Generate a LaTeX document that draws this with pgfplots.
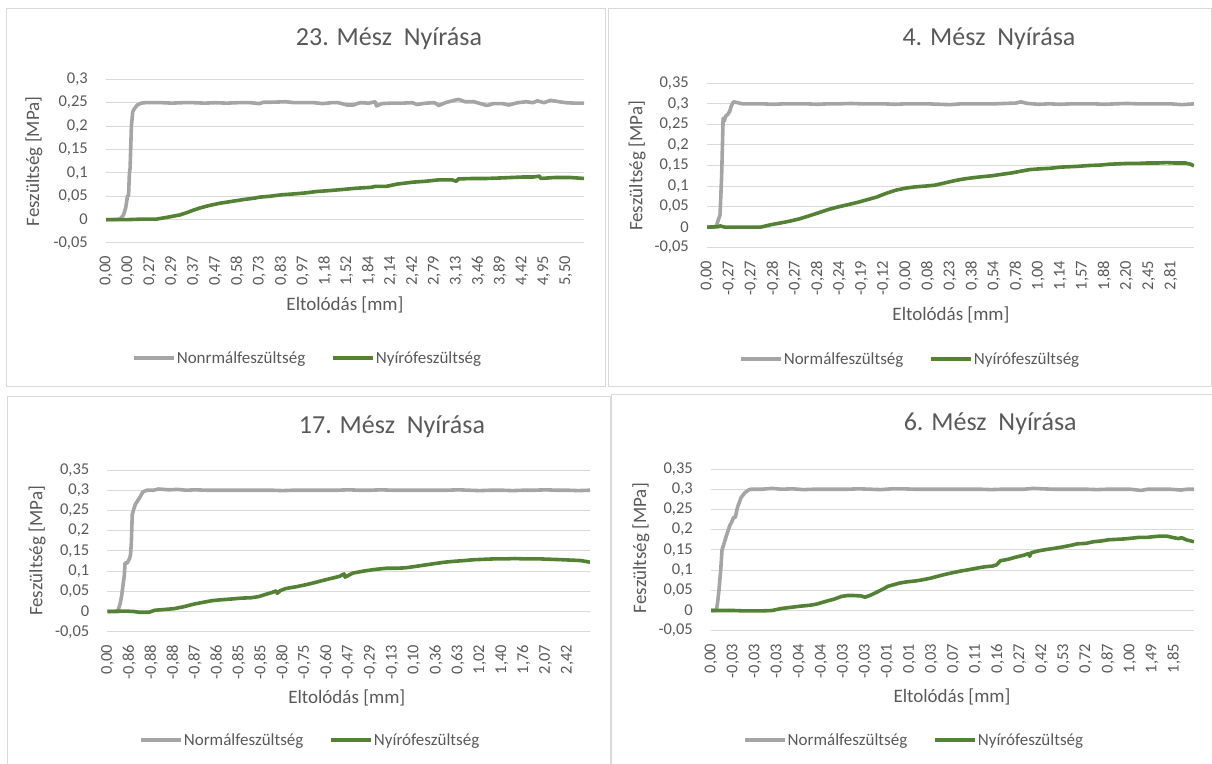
\documentclass[border=0pt]{standalone}
\usepackage{fontspec}
\setmainfont{Carlito}
\usepackage{pgfplots}
\pgfplotsset{compat=1.18}
\definecolor{linegray}{HTML}{A5A5A5}
\definecolor{linegreen}{HTML}{548235}
\definecolor{txt}{HTML}{595959}
\definecolor{gridc}{HTML}{D9D9D9}
\pgfplotsset{
  panel/.style={
    scale only axis, anchor=south west,
    axis line style={draw=none}, tick style={draw=none}, major tick length=0pt,
    ymajorgrids, grid style={gridc, line width=1pt},
    xmin=0, ymin=-0.05,
    xtick={0,...,21},
    xticklabel style={rotate=90, anchor=east, inner sep=0pt, font=\fontsize{16.5}{18}\selectfont, text=txt},
    xticklabel shift=13pt,
    yticklabel style={anchor=east, inner sep=0pt, font=\fontsize{16.5}{18}\selectfont, text=txt},
    yticklabel shift=18pt,
    title style={font=\fontsize{26}{30}\selectfont, text=txt, anchor=center},
    xlabel style={font=\fontsize{19}{22}\selectfont, text=txt, anchor=center},
    ylabel style={font=\fontsize{19}{22}\selectfont, text=txt, anchor=center},
    xlabel={Eltolódás [mm]},
    ylabel={Feszültség [MPa]},
    legend columns=2,
    legend cell align=left,
    legend style={draw=none, fill=none, anchor=west, inner sep=0pt,
      font=\fontsize{17}{20}\selectfont, text=txt,
      nodes={inner sep=1pt},
      /tikz/every even column/.append style={column sep=25pt}},
    legend image code/.code={\draw[#1] (0pt,0pt) -- (40pt,0pt);},
  },
  gl/.style={linegray, line width=3.6pt, line join=round},
  gr/.style={linegreen, line width=3.6pt, line join=round},
}
\begin{document}
\begin{tikzpicture}[x=1pt,y=1pt]
\useasboundingbox (0,0) rectangle (1212,763);
\draw[gridc, line width=1pt] (6.5,754) rectangle (605,376);
\draw[gridc, line width=1pt] (608,754) rectangle (1211.5,376);
\draw[gridc, line width=1pt] (7,366) rectangle (610,-5);
\draw[gridc, line width=1pt] (611,368) rectangle (1216,-5);

% ---------- Panel 1 ----------
\begin{axis}[panel, at={(106pt,520pt)}, width=478pt, height=163.7pt,
  xmax=21.83, ymax=0.3,
  ytick={-0.05,0,0.05,0.1,0.15,0.2,0.25,0.3},
  yticklabels={{-0,05},0,{0,05},{0,1},{0,15},{0,2},{0,25},{0,3}},
  xticklabels={{0,00},{0,00},{0,27},{0,29},{0,37},{0,47},{0,58},{0,73},{0,83},{0,97},{1,18},{1,52},{1,84},{2,14},{2,42},{2,79},{3,13},{3,46},{3,89},{4,42},{4,95},{5,50}},
  title={23. Mész\ \ Nyírása},
  title style={at={(axis description cs:0.592,1.2095)}},
  xlabel style={at={(axis description cs:0.5,-0.379)}},
  ylabel style={at={(axis description cs:-0.1506,0.498)}},
  legend style={at={(axis description cs:0.0544,-0.7025)}},
]
\addplot[gl] coordinates {(0,0)(0.3,0)(0.64,0.001)(0.8,0.01)(0.9,0.025)(0.98,0.05)(1.03,0.052)(1.07,0.1)(1.1,0.11)(1.16,0.2)(1.22,0.23)(1.28,0.236)(1.43,0.245)(1.6,0.249)(1.78,0.25)(2.2,0.25)(2.6,0.25)(3.0,0.249)(3.5,0.25)(4.0,0.25)(4.5,0.249)(5.0,0.25)(5.5,0.249)(6.0,0.25)(6.6,0.25)(7.0,0.248)(7.2,0.251)(7.6,0.251)(8.2,0.252)(8.6,0.25)(9.0,0.25)(9.5,0.25)(9.9,0.248)(10.3,0.25)(10.6,0.25)(11.0,0.245)(11.3,0.245)(11.6,0.25)(12.0,0.249)(12.3,0.252)(12.35,0.243)(12.6,0.248)(13.0,0.249)(13.5,0.249)(14.0,0.25)(14.2,0.246)(14.6,0.249)(15.0,0.25)(15.2,0.244)(15.5,0.25)(15.9,0.255)(16.1,0.257)(16.4,0.252)(16.8,0.252)(17.1,0.248)(17.4,0.244)(17.7,0.248)(18.1,0.248)(18.4,0.245)(18.8,0.25)(19.2,0.252)(19.5,0.25)(19.7,0.254)(20.0,0.25)(20.3,0.255)(20.7,0.252)(21.0,0.25)(21.4,0.249)(21.83,0.249)};
\addlegendentry{Nonrmálfeszültség}
\addplot[gr] coordinates {(0,0)(1,0)(1.6,0.001)(2.3,0.001)(2.8,0.005)(3.37,0.01)(3.7,0.015)(3.98,0.02)(4.3,0.025)(4.7,0.03)(5.2,0.035)(5.75,0.039)(6.3,0.043)(6.8,0.046)(7.0,0.048)(7.5,0.05)(8.0,0.053)(8.6,0.055)(9.1,0.057)(9.6,0.06)(10.2,0.062)(10.7,0.064)(11.4,0.067)(12.1,0.069)(12.3,0.071)(12.8,0.071)(13.3,0.076)(14.0,0.08)(14.6,0.082)(15.2,0.085)(15.8,0.085)(16.0,0.082)(16.1,0.087)(16.8,0.088)(17.4,0.088)(18.0,0.089)(18.5,0.09)(19.0,0.091)(19.5,0.091)(19.8,0.093)(19.85,0.088)(20.5,0.09)(21.2,0.09)(21.83,0.088)};
\addlegendentry{Nyírófeszültség}
\end{axis}

% ---------- Panel 2 ----------
\begin{axis}[panel, at={(707pt,515.3pt)}, width=487pt, height=164.4pt,
  xmax=22.05, ymax=0.35,
  ytick={-0.05,0,0.05,0.1,0.15,0.2,0.25,0.3,0.35},
  yticklabels={{-0,05},0,{0,05},{0,1},{0,15},{0,2},{0,25},{0,3},{0,35}},
  xticklabels={{0,00},{-0,27},{-0,27},{-0,28},{-0,27},{-0,28},{-0,24},{-0,19},{-0,12},{0,00},{0,08},{0,23},{0,38},{0,54},{0,78},{1,00},{1,14},{1,57},{1,88},{2,20},{2,45},{2,81}},
  title={4. Mész\ \ Nyírása},
  title style={at={(axis description cs:0.579,1.233)}},
  xlabel style={at={(axis description cs:0.501,-0.409)}},
  ylabel style={at={(axis description cs:-0.1437,0.497)}},
  legend style={at={(axis description cs:0.0657,-0.677)}},
]
\addplot[gl] coordinates {(0,0)(0.3,0)(0.42,0.003)(0.59,0.03)(0.66,0.12)(0.7,0.2)(0.73,0.265)(0.78,0.258)(0.85,0.27)(0.95,0.275)(1.03,0.282)(1.1,0.295)(1.2,0.305)(1.38,0.303)(1.6,0.3)(2,0.3)(2.5,0.3)(3,0.299)(3.5,0.3)(4,0.3)(4.5,0.3)(5,0.299)(5.5,0.3)(6,0.3)(6.5,0.301)(7,0.3)(7.5,0.3)(8,0.3)(8.5,0.299)(9,0.3)(9.5,0.3)(10,0.3)(10.5,0.299)(11,0.298)(11.5,0.3)(12,0.3)(12.5,0.3)(13,0.3)(13.5,0.301)(14,0.302)(14.2,0.305)(14.5,0.301)(15,0.299)(15.5,0.3)(16,0.299)(16.5,0.3)(17,0.3)(17.5,0.3)(18,0.299)(18.5,0.3)(19,0.301)(19.5,0.3)(20,0.3)(20.5,0.3)(21,0.3)(21.5,0.298)(22.05,0.3)};
\addlegendentry{Normálfeszültség}
\addplot[gr] coordinates {(0,0)(0.5,0.001)(0.6,0.003)(0.8,0)(1.5,0)(2.43,0)(2.9,0.006)(3.3,0.01)(3.7,0.014)(4.17,0.02)(4.6,0.027)(5.05,0.035)(5.5,0.043)(5.92,0.049)(6.4,0.055)(6.8,0.06)(7.2,0.066)(7.67,0.073)(8.1,0.082)(8.55,0.09)(9,0.095)(9.42,0.098)(9.9,0.1)(10.3,0.102)(10.8,0.108)(11.2,0.113)(11.6,0.117)(12,0.12)(12.5,0.123)(12.9,0.125)(13.4,0.129)(13.8,0.132)(14.2,0.136)(14.6,0.14)(15.1,0.142)(15.5,0.143)(16,0.146)(16.4,0.147)(16.8,0.148)(17.3,0.15)(17.8,0.151)(18.2,0.153)(18.6,0.154)(19,0.155)(19.5,0.155)(19.9,0.156)(20.4,0.156)(20.8,0.157)(21.2,0.156)(21.67,0.156)(21.9,0.153)(22.05,0.149)};
\addlegendentry{Nyírófeszültség}
\end{axis}

% ---------- Panel 3 ----------
\begin{axis}[panel, at={(107.5pt,131.3pt)}, width=482.5pt, height=161.7pt,
  xmax=22.03, ymax=0.35,
  ytick={-0.05,0,0.05,0.1,0.15,0.2,0.25,0.3,0.35},
  yticklabels={{-0,05},0,{0,05},{0,1},{0,15},{0,2},{0,25},{0,3},{0,35}},
  xticklabels={{0,00},{-0,86},{-0,88},{-0,88},{-0,87},{-0,86},{-0,85},{-0,85},{-0,80},{-0,75},{-0,60},{-0,47},{-0,29},{-0,13},{0,10},{0,36},{0,63},{1,02},{1,40},{1,76},{2,07},{2,42}},
  title={17. Mész\ \ Nyírása},
  title style={at={(axis description cs:0.5896,1.229)}},
  xlabel style={at={(axis description cs:0.496,-0.41)}},
  ylabel style={at={(axis description cs:-0.146,0.499)}},
  legend style={at={(axis description cs:0.0653,-0.67)}},
]
\addplot[gl] coordinates {(0,0)(0.47,0)(0.58,0.02)(0.65,0.04)(0.72,0.07)(0.77,0.09)(0.8,0.12)(0.9,0.12)(0.95,0.125)(1.0,0.13)(1.05,0.14)(1.09,0.17)(1.13,0.24)(1.18,0.25)(1.27,0.265)(1.45,0.28)(1.62,0.296)(1.8,0.3)(2.1,0.3)(2.33,0.303)(2.8,0.301)(3.2,0.302)(3.6,0.3)(4.0,0.301)(4.5,0.3)(5.0,0.3)(5.5,0.3)(6.0,0.3)(6.5,0.3)(7.0,0.3)(7.5,0.3)(8.0,0.299)(8.5,0.3)(9.0,0.3)(9.5,0.3)(10.0,0.3)(10.5,0.3)(11.0,0.301)(11.5,0.3)(12.0,0.3)(12.5,0.301)(13.0,0.3)(13.5,0.3)(14.0,0.3)(14.5,0.3)(15.0,0.3)(15.5,0.3)(16.0,0.301)(16.5,0.3)(17.0,0.299)(17.5,0.3)(18.0,0.3)(18.5,0.299)(19.0,0.3)(19.5,0.3)(20.0,0.301)(20.5,0.3)(21.0,0.3)(21.5,0.299)(22.03,0.3)};
\addlegendentry{Normálfeszültség}
\addplot[gr] coordinates {(0,0)(0.8,0.001)(1.2,0)(1.45,-0.002)(1.9,-0.002)(2.15,0.003)(2.6,0.005)(3.04,0.007)(3.5,0.012)(3.92,0.018)(4.4,0.023)(4.8,0.027)(5.2,0.029)(5.68,0.031)(6.1,0.033)(6.56,0.034)(6.92,0.037)(7.2,0.042)(7.45,0.046)(7.71,0.051)(7.75,0.045)(7.9,0.052)(8.15,0.057)(8.6,0.061)(9.04,0.066)(9.5,0.072)(9.92,0.078)(10.3,0.083)(10.6,0.087)(10.8,0.093)(10.85,0.085)(11.2,0.095)(11.7,0.1)(12.2,0.104)(12.74,0.107)(13.2,0.107)(13.6,0.108)(14.0,0.111)(14.5,0.115)(15.0,0.119)(15.4,0.122)(15.8,0.124)(16.3,0.126)(16.7,0.128)(17.15,0.129)(17.6,0.13)(18.1,0.13)(18.6,0.131)(19.1,0.13)(19.5,0.13)(19.8,0.13)(20.3,0.129)(20.8,0.128)(21.2,0.127)(21.6,0.126)(22.03,0.122)};
\addlegendentry{Nyírófeszültség}
\end{axis}

% ---------- Panel 4 ----------
\begin{axis}[panel, at={(711pt,132.3pt)}, width=483pt, height=161.7pt,
  xmax=21.9, ymax=0.35,
  ytick={-0.05,0,0.05,0.1,0.15,0.2,0.25,0.3,0.35},
  yticklabels={{-0,05},0,{0,05},{0,1},{0,15},{0,2},{0,25},{0,3},{0,35}},
  xticklabels={{0,00},{-0,03},{-0,03},{-0,03},{-0,04},{-0,04},{-0,03},{-0,03},{-0,01},{0,01},{0,03},{0,07},{0,11},{0,16},{0,27},{0,42},{0,53},{0,72},{0,87},{1,00},{1,49},{1,85}},
  title={6. Mész\ \ Nyírása},
  title style={at={(axis description cs:0.578,1.241)}},
  xlabel style={at={(axis description cs:0.499,-0.41)}},
  ylabel style={at={(axis description cs:-0.145,0.511)}},
  legend style={at={(axis description cs:0.066,-0.676)}},
]
\addplot[gl] coordinates {(0,0)(0.24,0)(0.3,0.02)(0.36,0.05)(0.44,0.1)(0.5,0.15)(0.56,0.16)(0.67,0.18)(0.85,0.21)(0.95,0.22)(1.02,0.23)(1.1,0.23)(1.2,0.255)(1.37,0.28)(1.55,0.292)(1.7,0.298)(1.81,0.3)(2.3,0.3)(2.77,0.302)(3.2,0.3)(3.7,0.301)(4.2,0.299)(4.7,0.3)(5.2,0.3)(5.7,0.3)(6.2,0.3)(6.7,0.301)(7.2,0.3)(7.7,0.299)(8.2,0.301)(8.7,0.301)(9.2,0.3)(9.7,0.3)(10.2,0.3)(10.7,0.3)(11.2,0.3)(11.7,0.3)(12.2,0.3)(12.7,0.299)(13.2,0.3)(13.7,0.3)(14.2,0.3)(14.6,0.302)(15.0,0.301)(15.5,0.3)(16.0,0.3)(16.5,0.3)(17.0,0.3)(17.5,0.299)(18.0,0.3)(18.5,0.3)(19.0,0.3)(19.5,0.297)(19.8,0.3)(20.3,0.3)(20.8,0.3)(21.3,0.298)(21.6,0.3)(21.9,0.3)};
\addlegendentry{Normálfeszültség}
\addplot[gr] coordinates {(0,0)(1,0)(1.5,-0.001)(2.3,-0.001)(2.77,0)(3.2,0.005)(3.65,0.008)(4.1,0.011)(4.5,0.013)(4.8,0.016)(5.05,0.02)(5.3,0.024)(5.58,0.028)(5.93,0.035)(6.2,0.037)(6.46,0.037)(6.8,0.036)(6.98,0.033)(7.2,0.037)(7.51,0.045)(7.8,0.053)(8.03,0.06)(8.3,0.064)(8.56,0.068)(8.9,0.071)(9.26,0.073)(9.6,0.076)(9.96,0.08)(10.3,0.085)(10.67,0.09)(11.0,0.094)(11.37,0.098)(11.7,0.101)(12.07,0.105)(12.4,0.108)(12.77,0.11)(12.95,0.113)(13.12,0.123)(13.5,0.127)(13.82,0.132)(14.2,0.137)(14.4,0.141)(14.45,0.134)(14.52,0.143)(14.9,0.148)(15.22,0.151)(15.6,0.154)(15.92,0.157)(16.3,0.161)(16.62,0.165)(17.0,0.166)(17.33,0.17)(17.7,0.172)(18.03,0.175)(18.4,0.176)(18.73,0.177)(19.1,0.179)(19.43,0.181)(19.8,0.181)(20.13,0.183)(20.4,0.184)(20.66,0.184)(20.9,0.181)(21.18,0.178)(21.35,0.18)(21.54,0.175)(21.9,0.17)};
\addlegendentry{Nyírófeszültség}
\end{axis}
\end{tikzpicture}
\end{document}
